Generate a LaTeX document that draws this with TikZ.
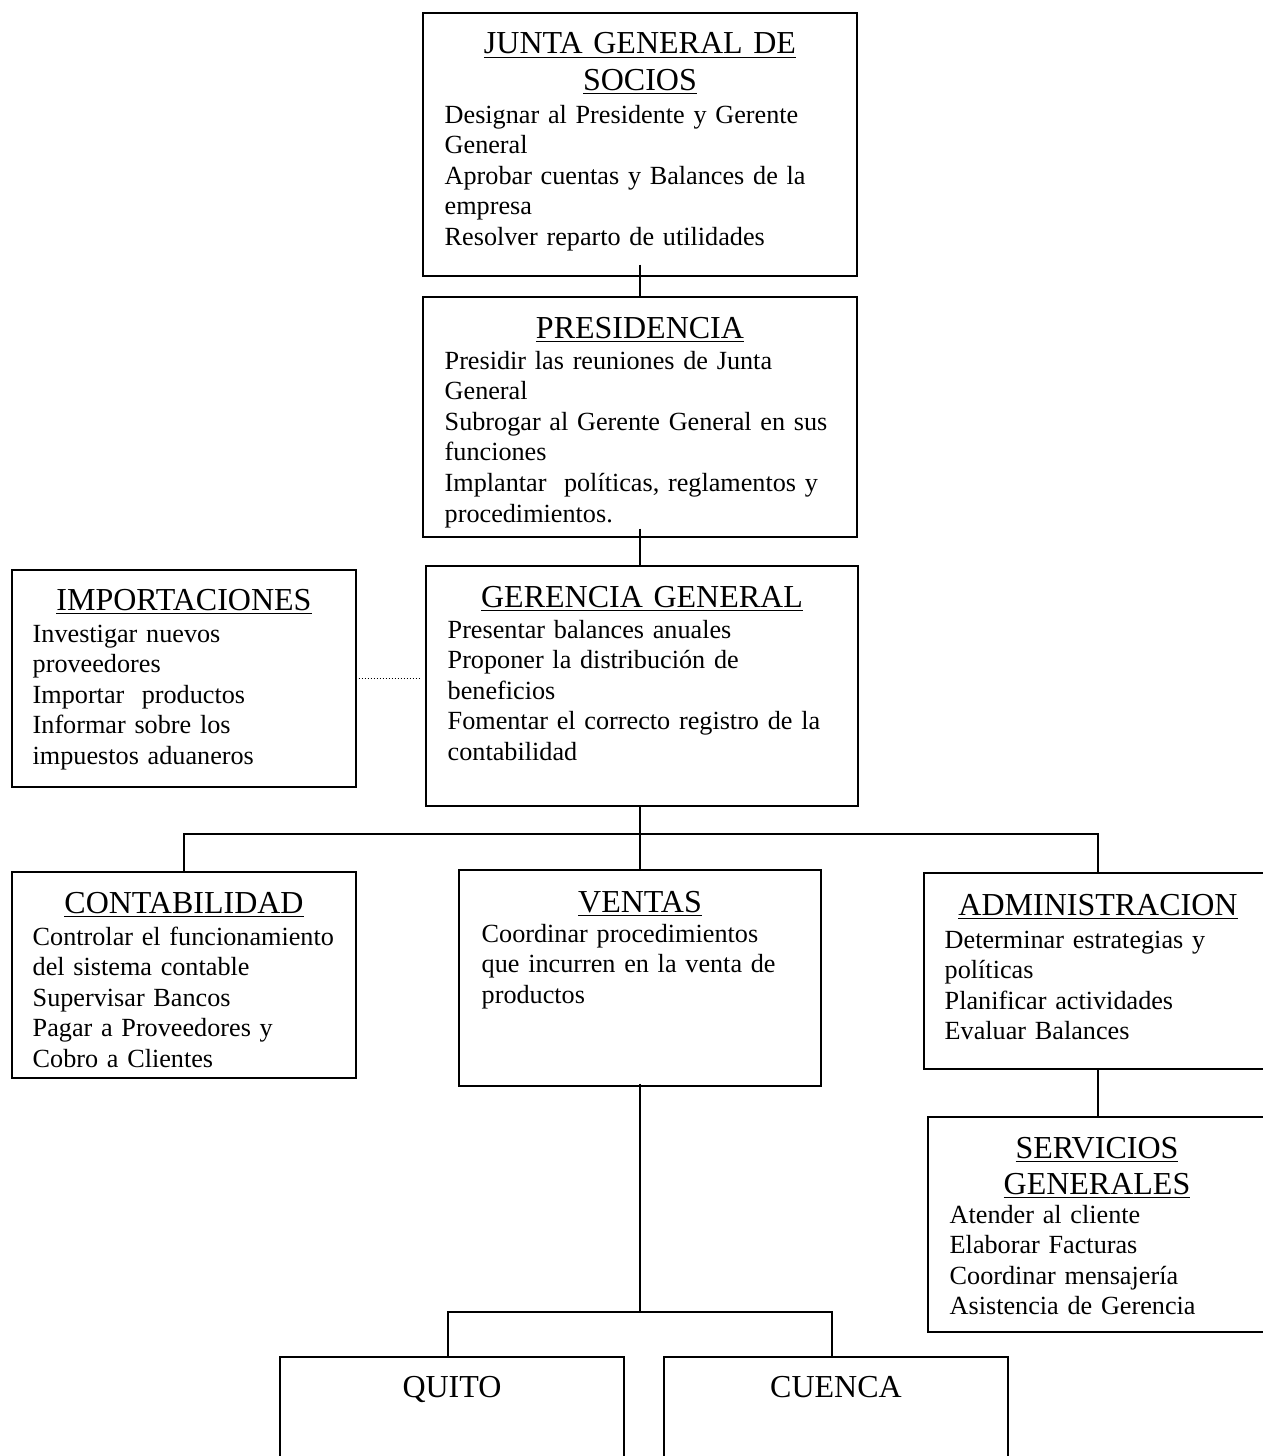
\documentclass[tikz,border=0pt]{standalone}
\usepackage{fontspec}
\setmainfont{Liberation Serif}
\usetikzlibrary{fit,calc}
\newcommand\bodyfont{\fontsize{13.1}{15.3}\selectfont}
\newcommand\headfont{\fontsize{16}{18}\selectfont}
\begin{document}
\begin{tikzpicture}[x=0.5pt,y=-0.5pt,
  line width=0.7pt,
  orgbox/.style={draw, inner sep=0pt, fill=white},
  head/.style={anchor=base, inner sep=0pt, text width=200pt, align=center, font=\headfont},
  body/.style={anchor=base west, inner sep=0pt, text width=230pt, align=left, font=\bodyfont},
  link/.style={draw, line width=0.7pt},
  dots/.style={line width=0.5pt, dash pattern=on 0.6pt off 0.9pt}]
\useasboundingbox (0,0) rectangle (1263,1456);
\fill[white] (0,0) rectangle (1263,1456);
\clip (0,0) rectangle (1263,1456);

% boxes
\node[orgbox, fit={(423,13) (857,276)}] (junta) {};
\node[orgbox, fit={(423,297) (857,537)}] (pres) {};
\node[orgbox, fit={(426,566) (858,806)}] (ger) {};
\node[orgbox, fit={(12,570) (356,787)}] (imp) {};
\node[orgbox, fit={(12,872) (356,1078)}] (cont) {};
\node[orgbox, fit={(459,870) (821,1086)}] (vent) {};
\node[orgbox, fit={(924,873) (1272,1069)}] (admin) {};
\node[orgbox, fit={(928,1117) (1267,1332)}] (serv) {};
\node[orgbox, fit={(280,1357) (624,1490)}] (quito) {};
\node[orgbox, fit={(664,1357) (1008,1490)}] (cuenca) {};

% headings
\node[head] (juntah) at (640,54) {\underline{JUNTA GENERAL DE}\\\underline{SOCIOS}};
\node[head] (presh) at (640,338) {\underline{PRESIDENCIA}};
\node[head] (gerh) at (642,607) {\underline{GERENCIA GENERAL}};
\node[head] (imph) at (184,610) {\underline{IMPORTACIONES}};
\node[head] (conth) at (184,913) {\underline{CONTABILIDAD}};
\node[head] (venth) at (640,912) {\underline{VENTAS}};
\node[head] (adminh) at (1098,915) {\underline{ADMINISTRACION}};
\node[head, text width=160pt] (servh) at (1097,1158) {\underline{SERVICIOS}\\\underline{GENERALES}};
\node[head] (quitoh) at (452,1397) {QUITO};
\node[head] (cuencah) at (836,1397) {CUENCA};

% bodies
\node[body] (juntab) at (444,123) {Designar al Presidente y Gerente\\General\\Aprobar cuentas y Balances de la\\empresa\\Resolver reparto de utilidades};
\node[body] (presb) at (444,369) {Presidir las reuniones de Junta\\General\\Subrogar al Gerente General en sus\\funciones\\Implantar\ \ políticas, reglamentos y\\procedimientos.};
\node[body] (gerb) at (447,638) {Presentar balances anuales\\Proponer la distribución de\\beneficios\\Fomentar el correcto registro de la\\contabilidad};
\node[body] (impb) at (32,642) {Investigar nuevos\\proveedores\\Importar\ \ productos\\Informar sobre los\\impuestos aduaneros};
\node[body] (contb) at (32,945) {Controlar el funcionamiento\\del sistema contable\\Supervisar Bancos\\Pagar a Proveedores y\\Cobro a Clientes};
\node[body] (ventb) at (481,942) {Coordinar procedimientos\\que incurren en la venta de\\productos};
\node[body] (adminb) at (944,948) {Determinar estrategias y\\políticas\\Planificar actividades\\Evaluar Balances};
\node[body] (servb) at (949,1223) {Atender al cliente\\Elaborar Facturas\\Coordinar mensajería\\Asistencia de Gerencia};

% connectors
\coordinate (bus) at (640,834);
\coordinate (fork) at (640,1312);
\draw[link] ([yshift=6pt]junta.south) -- (pres.north);
\draw[link] ([yshift=4.5pt]pres.south) -- (pres.south |- ger.north);
\draw[dots] ([xshift=1pt]imp.east) -- ([xshift=-3pt]imp.east -| ger.west);
\draw[link] (vent.north |- ger.south) -- (vent.north);
\draw[link] (cont.north) -- (cont.north |- bus) -- (admin.north |- bus) -- (admin.north);
\draw[link] (admin.south) -- (admin.south |- serv.north);
\draw[link] ([yshift=1.5pt]vent.south) -- (vent.south |- fork);
\draw[link] ([xshift=-2pt]quito.north) -- ([xshift=-2pt]quito.north |- fork) -- ([xshift=-2pt]cuenca.north |- fork) -- ([xshift=-2pt]cuenca.north);
\end{tikzpicture}
\end{document}
